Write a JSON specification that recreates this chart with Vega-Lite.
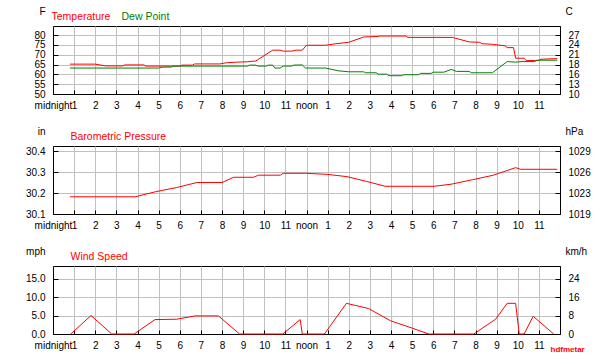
{
  "$schema": "https://vega.github.io/schema/vega-lite/v6.json",
  "background": "white",
  "padding": {"left": 25, "top": 5, "right": 5, "bottom": 5},
  "autosize": {"type": "pad"},
  "datasets": {
    "temp": [
      {"t": 0.8, "v": 65.2, "series": "Temperature"},
      {"t": 2.0, "v": 65.2, "series": "Temperature"},
      {"t": 2.5, "v": 64.3, "series": "Temperature"},
      {"t": 3.3, "v": 64.3, "series": "Temperature"},
      {"t": 3.4, "v": 64.8, "series": "Temperature"},
      {"t": 4.3, "v": 64.8, "series": "Temperature"},
      {"t": 4.4, "v": 64.2, "series": "Temperature"},
      {"t": 6.0, "v": 64.2, "series": "Temperature"},
      {"t": 6.1, "v": 64.7, "series": "Temperature"},
      {"t": 6.6, "v": 64.7, "series": "Temperature"},
      {"t": 6.7, "v": 65.3, "series": "Temperature"},
      {"t": 7.9, "v": 65.3, "series": "Temperature"},
      {"t": 8.2, "v": 65.9, "series": "Temperature"},
      {"t": 8.7, "v": 66.2, "series": "Temperature"},
      {"t": 9.2, "v": 66.4, "series": "Temperature"},
      {"t": 9.6, "v": 66.8, "series": "Temperature"},
      {"t": 10.4, "v": 72.3, "series": "Temperature"},
      {"t": 10.75, "v": 72.3, "series": "Temperature"},
      {"t": 10.9, "v": 71.8, "series": "Temperature"},
      {"t": 11.3, "v": 71.8, "series": "Temperature"},
      {"t": 11.5, "v": 72.3, "series": "Temperature"},
      {"t": 11.8, "v": 72.3, "series": "Temperature"},
      {"t": 12.0, "v": 74.8, "series": "Temperature"},
      {"t": 12.9, "v": 74.8, "series": "Temperature"},
      {"t": 13.4, "v": 75.6, "series": "Temperature"},
      {"t": 14.0, "v": 76.3, "series": "Temperature"},
      {"t": 14.7, "v": 79.0, "series": "Temperature"},
      {"t": 15.4, "v": 79.3, "series": "Temperature"},
      {"t": 15.5, "v": 79.5, "series": "Temperature"},
      {"t": 16.7, "v": 79.5, "series": "Temperature"},
      {"t": 16.8, "v": 78.8, "series": "Temperature"},
      {"t": 18.9, "v": 78.8, "series": "Temperature"},
      {"t": 19.7, "v": 76.5, "series": "Temperature"},
      {"t": 20.2, "v": 76.3, "series": "Temperature"},
      {"t": 20.3, "v": 75.6, "series": "Temperature"},
      {"t": 20.8, "v": 75.3, "series": "Temperature"},
      {"t": 21.4, "v": 74.5, "series": "Temperature"},
      {"t": 21.5, "v": 73.6, "series": "Temperature"},
      {"t": 21.8, "v": 73.6, "series": "Temperature"},
      {"t": 21.9, "v": 68.2, "series": "Temperature"},
      {"t": 22.3, "v": 68.2, "series": "Temperature"},
      {"t": 22.4, "v": 67.0, "series": "Temperature"},
      {"t": 23.0, "v": 67.0, "series": "Temperature"},
      {"t": 23.1, "v": 67.7, "series": "Temperature"},
      {"t": 23.87, "v": 68.0, "series": "Temperature"},
      {"t": 0.8, "v": 63.2, "series": "Dew Point"},
      {"t": 5.0, "v": 63.2, "series": "Dew Point"},
      {"t": 5.2, "v": 63.7, "series": "Dew Point"},
      {"t": 5.6, "v": 63.7, "series": "Dew Point"},
      {"t": 5.7, "v": 64.2, "series": "Dew Point"},
      {"t": 9.2, "v": 64.2, "series": "Dew Point"},
      {"t": 9.3, "v": 64.7, "series": "Dew Point"},
      {"t": 9.6, "v": 64.7, "series": "Dew Point"},
      {"t": 9.7, "v": 64.2, "series": "Dew Point"},
      {"t": 10.1, "v": 64.2, "series": "Dew Point"},
      {"t": 10.2, "v": 64.7, "series": "Dew Point"},
      {"t": 10.4, "v": 64.7, "series": "Dew Point"},
      {"t": 10.5, "v": 63.2, "series": "Dew Point"},
      {"t": 10.75, "v": 63.2, "series": "Dew Point"},
      {"t": 10.9, "v": 64.2, "series": "Dew Point"},
      {"t": 11.3, "v": 64.2, "series": "Dew Point"},
      {"t": 11.4, "v": 64.7, "series": "Dew Point"},
      {"t": 11.8, "v": 64.8, "series": "Dew Point"},
      {"t": 11.95, "v": 63.2, "series": "Dew Point"},
      {"t": 12.9, "v": 63.2, "series": "Dew Point"},
      {"t": 13.2, "v": 62.5, "series": "Dew Point"},
      {"t": 13.5, "v": 61.8, "series": "Dew Point"},
      {"t": 14.0, "v": 61.3, "series": "Dew Point"},
      {"t": 14.7, "v": 61.3, "series": "Dew Point"},
      {"t": 14.8, "v": 60.8, "series": "Dew Point"},
      {"t": 15.3, "v": 60.8, "series": "Dew Point"},
      {"t": 15.4, "v": 60.1, "series": "Dew Point"},
      {"t": 15.8, "v": 60.1, "series": "Dew Point"},
      {"t": 15.9, "v": 59.3, "series": "Dew Point"},
      {"t": 16.5, "v": 59.3, "series": "Dew Point"},
      {"t": 16.6, "v": 59.8, "series": "Dew Point"},
      {"t": 17.3, "v": 59.8, "series": "Dew Point"},
      {"t": 17.4, "v": 60.5, "series": "Dew Point"},
      {"t": 17.9, "v": 60.5, "series": "Dew Point"},
      {"t": 18.0, "v": 61.1, "series": "Dew Point"},
      {"t": 18.5, "v": 61.1, "series": "Dew Point"},
      {"t": 18.85, "v": 62.5, "series": "Dew Point"},
      {"t": 19.1, "v": 61.5, "series": "Dew Point"},
      {"t": 19.7, "v": 61.5, "series": "Dew Point"},
      {"t": 19.8, "v": 60.8, "series": "Dew Point"},
      {"t": 20.8, "v": 60.8, "series": "Dew Point"},
      {"t": 21.5, "v": 66.5, "series": "Dew Point"},
      {"t": 21.9, "v": 66.2, "series": "Dew Point"},
      {"t": 22.2, "v": 66.5, "series": "Dew Point"},
      {"t": 22.8, "v": 66.5, "series": "Dew Point"},
      {"t": 22.9, "v": 67.2, "series": "Dew Point"},
      {"t": 23.87, "v": 67.2, "series": "Dew Point"}
    ],
    "pressure": [
      {"t": 0.8, "v": 30.182, "series": "Barometric Pressure"},
      {"t": 1.85, "v": 30.182, "series": "Barometric Pressure"},
      {"t": 2.85, "v": 30.182, "series": "Barometric Pressure"},
      {"t": 3.89, "v": 30.182, "series": "Barometric Pressure"},
      {"t": 4.85, "v": 30.206, "series": "Barometric Pressure"},
      {"t": 5.85, "v": 30.226, "series": "Barometric Pressure"},
      {"t": 6.81, "v": 30.25, "series": "Barometric Pressure"},
      {"t": 8.0, "v": 30.25, "series": "Barometric Pressure"},
      {"t": 8.55, "v": 30.275, "series": "Barometric Pressure"},
      {"t": 9.49, "v": 30.275, "series": "Barometric Pressure"},
      {"t": 9.73, "v": 30.285, "series": "Barometric Pressure"},
      {"t": 10.76, "v": 30.285, "series": "Barometric Pressure"},
      {"t": 10.9, "v": 30.294, "series": "Barometric Pressure"},
      {"t": 11.94, "v": 30.294, "series": "Barometric Pressure"},
      {"t": 12.97, "v": 30.289, "series": "Barometric Pressure"},
      {"t": 13.92, "v": 30.278, "series": "Barometric Pressure"},
      {"t": 14.85, "v": 30.255, "series": "Barometric Pressure"},
      {"t": 15.73, "v": 30.232, "series": "Barometric Pressure"},
      {"t": 18.03, "v": 30.232, "series": "Barometric Pressure"},
      {"t": 18.85, "v": 30.242, "series": "Barometric Pressure"},
      {"t": 19.85, "v": 30.263, "series": "Barometric Pressure"},
      {"t": 20.85, "v": 30.285, "series": "Barometric Pressure"},
      {"t": 21.9, "v": 30.321, "series": "Barometric Pressure"},
      {"t": 22.13, "v": 30.313, "series": "Barometric Pressure"},
      {"t": 23.87, "v": 30.313, "series": "Barometric Pressure"}
    ],
    "wind": [
      {"t": 0.84, "v": 0, "series": "Wind Speed"},
      {"t": 1.8, "v": 5.0, "series": "Wind Speed"},
      {"t": 2.78, "v": 0, "series": "Wind Speed"},
      {"t": 3.84, "v": 0, "series": "Wind Speed"},
      {"t": 4.83, "v": 3.9, "series": "Wind Speed"},
      {"t": 5.86, "v": 4.0, "series": "Wind Speed"},
      {"t": 6.73, "v": 4.9, "series": "Wind Speed"},
      {"t": 7.83, "v": 4.9, "series": "Wind Speed"},
      {"t": 8.83, "v": 0, "series": "Wind Speed"},
      {"t": 10.88, "v": 0, "series": "Wind Speed"},
      {"t": 11.7, "v": 3.9, "series": "Wind Speed"},
      {"t": 11.8, "v": 0, "series": "Wind Speed"},
      {"t": 12.85, "v": 0, "series": "Wind Speed"},
      {"t": 13.89, "v": 8.3, "series": "Wind Speed"},
      {"t": 14.94, "v": 6.9, "series": "Wind Speed"},
      {"t": 15.97, "v": 3.6, "series": "Wind Speed"},
      {"t": 16.9, "v": 1.8, "series": "Wind Speed"},
      {"t": 17.79, "v": 0, "series": "Wind Speed"},
      {"t": 19.92, "v": 0, "series": "Wind Speed"},
      {"t": 20.95, "v": 4.0, "series": "Wind Speed"},
      {"t": 21.5, "v": 8.3, "series": "Wind Speed"},
      {"t": 21.9, "v": 8.3, "series": "Wind Speed"},
      {"t": 22.07, "v": 0, "series": "Wind Speed"},
      {"t": 22.3, "v": 0, "series": "Wind Speed"},
      {"t": 22.73, "v": 4.8, "series": "Wind Speed"},
      {"t": 23.7, "v": 0, "series": "Wind Speed"}
    ]
  },
  "vconcat": [
    {
      "width": 507, "height": 68,
      "data": {"name": "temp"},
      "layer": [
        {
          "mark": {"type": "line", "strokeWidth": 1},
          "encoding": {
            "x": {"field": "t", "type": "quantitative", "scale": {"domain": [0, 24], "nice": false, "zero": false},
              "axis": {"values": [0,1,2,3,4,5,6,7,8,9,10,11,12,13,14,15,16,17,18,19,20,21,22,23], "labelExpr": "datum.value == 0 ? 'midnight' : datum.value == 12 ? 'noon' : '' + (datum.value % 12)", "title": null}},
            "y": {"field": "v", "type": "quantitative", "scale": {"domain": [50, 84.6], "nice": false, "zero": false},
              "axis": {"orient": "left", "values": [50,55,60,65,70,75,80], "title": "F", "titleAlign": "right", "titleX": -8}},
            "color": {"field": "series", "type": "nominal", "sort": null,
              "scale": {"domain": ["Temperature", "Dew Point"], "range": ["#ff0000", "#008000"]},
              "legend": {"legendX": -12, "legendY": -14,
                "labelColor": {"expr": "datum.label == 'Dew Point' ? '#008000' : '#ff0000'"}}}
          }
        },
        {
          "mark": {"type": "line", "strokeOpacity": 0},
          "encoding": {
            "x": {"field": "t", "type": "quantitative", "scale": {"domain": [0, 24], "nice": false, "zero": false},
              "axis": {"values": [0,1,2,3,4,5,6,7,8,9,10,11,12,13,14,15,16,17,18,19,20,21,22,23], "labelExpr": "datum.value == 0 ? 'midnight' : datum.value == 12 ? 'noon' : '' + (datum.value % 12)", "title": null}},
            "y": {"field": "v", "type": "quantitative", "scale": {"domain": [50, 84.6], "nice": false, "zero": false},
              "axis": {"orient": "right", "grid": false, "values": [50,55,60,65,70,75,80], "labelExpr": "'' + round((datum.value - 32) * 5 / 9)", "title": "C", "titleAlign": "left", "titleX": 5}},
            "detail": {"field": "series"}
          }
        }
      ],
      "resolve": {"axis": {"y": "independent"}}
    },
    {
      "width": 507, "height": 68,
      "data": {"name": "pressure"},
      "layer": [
        {
          "mark": {"type": "line", "strokeWidth": 1},
          "encoding": {
            "x": {"field": "t", "type": "quantitative", "scale": {"domain": [0, 24], "nice": false, "zero": false},
              "axis": {"values": [0,1,2,3,4,5,6,7,8,9,10,11,12,13,14,15,16,17,18,19,20,21,22,23], "labelExpr": "datum.value == 0 ? 'midnight' : datum.value == 12 ? 'noon' : '' + (datum.value % 12)", "title": null}},
            "y": {"field": "v", "type": "quantitative", "scale": {"domain": [30.1, 30.424], "nice": false, "zero": false},
              "axis": {"orient": "left", "values": [30.1, 30.2, 30.3, 30.4], "format": ".1f", "title": "in", "titleAlign": "right", "titleX": -8}},
            "color": {"field": "series", "type": "nominal",
              "scale": {"domain": ["Barometric Pressure"], "range": ["#ff0000"]},
              "legend": {"legendX": 7, "legendY": -14}}
          }
        },
        {
          "mark": {"type": "line", "strokeOpacity": 0},
          "encoding": {
            "x": {"field": "t", "type": "quantitative", "scale": {"domain": [0, 24], "nice": false, "zero": false},
              "axis": {"values": [0,1,2,3,4,5,6,7,8,9,10,11,12,13,14,15,16,17,18,19,20,21,22,23], "labelExpr": "datum.value == 0 ? 'midnight' : datum.value == 12 ? 'noon' : '' + (datum.value % 12)", "title": null}},
            "y": {"field": "v", "type": "quantitative", "scale": {"domain": [30.1, 30.424], "nice": false, "zero": false},
              "axis": {"orient": "right", "grid": false, "values": [30.1, 30.2, 30.3, 30.4], "labelExpr": "'' + round(datum.value * 33.8639)", "title": "hPa", "titleAlign": "left", "titleX": 5}}
          }
        }
      ],
      "resolve": {"axis": {"y": "independent"}}
    },
    {
      "width": 507, "height": 68,
      "data": {"name": "wind"},
      "layer": [
        {
          "mark": {"type": "line", "strokeWidth": 1},
          "encoding": {
            "x": {"field": "t", "type": "quantitative", "scale": {"domain": [0, 24], "nice": false, "zero": false},
              "axis": {"values": [0,1,2,3,4,5,6,7,8,9,10,11,12,13,14,15,16,17,18,19,20,21,22,23], "labelExpr": "datum.value == 0 ? 'midnight' : datum.value == 12 ? 'noon' : '' + (datum.value % 12)",
                "title": "hdfmetar", "titleColor": "#ff0000", "titleFontSize": 8, "titleFontWeight": "bold", "titleAlign": "left", "titleBaseline": "alphabetic", "titleX": 497, "titleY": 17}},
            "y": {"field": "v", "type": "quantitative", "scale": {"domain": [0, 18.4], "nice": false, "zero": false},
              "axis": {"orient": "left", "values": [0, 5, 10, 15], "format": ".1f", "title": "mph", "titleAlign": "right", "titleX": -8}},
            "color": {"field": "series", "type": "nominal",
              "scale": {"domain": ["Wind Speed"], "range": ["#ff0000"]},
              "legend": {"legendX": 7, "legendY": -14}}
          }
        },
        {
          "mark": {"type": "line", "strokeOpacity": 0},
          "encoding": {
            "x": {"field": "t", "type": "quantitative", "scale": {"domain": [0, 24], "nice": false, "zero": false},
              "axis": {"values": [0,1,2,3,4,5,6,7,8,9,10,11,12,13,14,15,16,17,18,19,20,21,22,23], "labelExpr": "datum.value == 0 ? 'midnight' : datum.value == 12 ? 'noon' : '' + (datum.value % 12)",
                "title": "hdfmetar", "titleColor": "#ff0000", "titleFontSize": 8, "titleFontWeight": "bold", "titleAlign": "left", "titleBaseline": "alphabetic", "titleX": 497, "titleY": 17}},
            "y": {"field": "v", "type": "quantitative", "scale": {"domain": [0, 18.4], "nice": false, "zero": false},
              "axis": {"orient": "right", "grid": false, "values": [0, 5, 10, 15], "labelExpr": "'' + round(datum.value * 1.609)", "title": "km/h", "titleAlign": "left", "titleX": 5}}
          }
        }
      ],
      "resolve": {"axis": {"y": "independent"}}
    }
  ],
  "spacing": 52,
  "bounds": "flush",
  "resolve": {"scale": {"color": "independent", "x": "independent", "y": "independent"}, "legend": {"color": "independent"}},
  "config": {
    "font": "Liberation Sans",
    "view": {"stroke": "#000000", "strokeWidth": 1},
    "line": {"strokeWidth": 1},
    "axis": {
      "labelFont": "Liberation Sans", "labelFontSize": 10, "labelColor": "#000000",
      "titleFont": "Liberation Sans", "titleFontSize": 10, "titleFontWeight": "normal", "titleColor": "#000000",
      "titleAngle": 0, "titleBaseline": "middle", "titleY": -15,
      "domainColor": "#000000", "tickColor": "#000000", "gridColor": "#c0c0c0", "gridOpacity": 1,
      "labelOverlap": false, "labelFlush": false, "labelBound": false
    },
    "axisX": {"tickSize": -4, "labelPadding": 10, "grid": true},
    "axisY": {"tickSize": -5, "labelPadding": 13, "grid": true},
    "legend": {
      "orient": "none", "direction": "horizontal", "title": null,
      "symbolSize": 0, "symbolStrokeWidth": 0, "symbolOpacity": 0, "labelOffset": 0,
      "columnPadding": 0, "labelFont": "Liberation Sans", "labelFontSize": 10.5, "labelColor": "#ff0000"
    }
  }
}
